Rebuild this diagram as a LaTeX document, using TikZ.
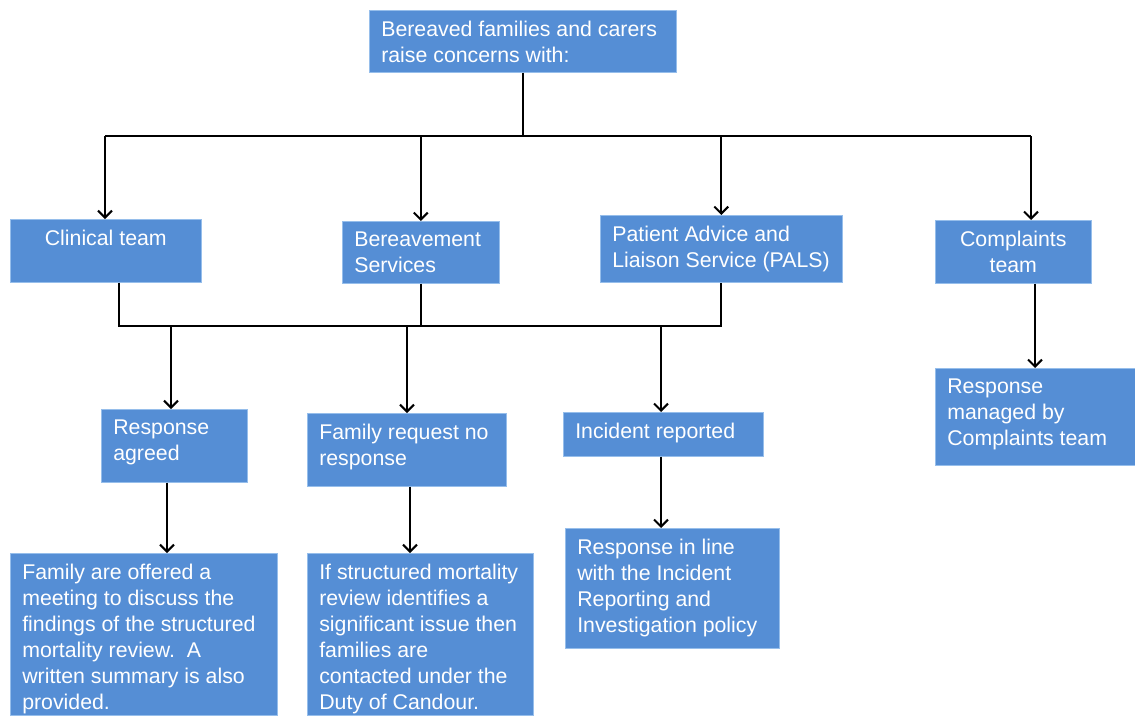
\documentclass[tikz,border=0pt]{standalone}
\usepackage{fontspec}
\setmainfont{Liberation Sans}
\usetikzlibrary{arrows.meta}

\definecolor{boxblue}{RGB}{85,142,213}
\definecolor{boxedge}{RGB}{150,190,235}

\newcommand{\boxfont}{\fontsize{21.3pt}{26pt}\selectfont}
\newcommand{\lefttext}{\raggedright\leftskip=12pt\relax}
\newcommand{\midtext}{\centering}
% #1 width, #2 height, #3 alignment, #4 text
\newcommand{\boxtext}[4]{%
  \parbox[c][#2][t]{#1}{\boxfont\vspace*{11pt}#3#4\par}}

\tikzset{
  box/.style={fill=boxblue, draw=boxedge, line width=0.6pt, inner sep=0pt,
              anchor=north west, text=white},
  link/.style={draw=black, line width=2pt},
  arr/.style={link, -{Straight Barb[length=7pt,width=14pt,line width=2pt]}},
}

\begin{document}
\begin{tikzpicture}[x=1pt, y=-1pt]
\useasboundingbox (0,0) rectangle (1135,715);

% boxes
\node[box] (top)  at (369,10)  {\boxtext{307pt}{62pt}{\lefttext}{Bereaved families and carers\\raise concerns with:}};
\node[box] (clin) at (10,219)  {\boxtext{191pt}{63pt}{\midtext}{Clinical team}};
\node[box] (bere) at (342,221) {\boxtext{157pt}{62pt}{\lefttext}{Bereavement\\Services}};
\node[box] (pals) at (600,215) {\boxtext{242pt}{67pt}{\lefttext}{Patient Advice and\\Liaison Service (PALS)}};
\node[box] (comp) at (935,220) {\boxtext{156pt}{63pt}{\midtext}{Complaints\\team}};

\node[box] (ragr) at (101,409) {\boxtext{146pt}{73pt}{\lefttext}{Response\\agreed}};
\node[box] (freq) at (307,413) {\boxtext{199pt}{73pt}{\lefttext}{Family request no\\response}};
\node[box] (inc)  at (563,412) {\boxtext{200pt}{44pt}{\lefttext}{Incident reported}};
\node[box] (rman) at (935,368) {\boxtext{200pt}{97pt}{\lefttext}{Response\\managed by\\Complaints team}};

\node[box] (fam)  at (10,553)  {\boxtext{267pt}{162pt}{\lefttext}{Family are offered a\\meeting to discuss the\\findings of the structured\\mortality review.\ \ A\\written summary is also\\provided.}};
\node[box] (ifs)  at (307,553) {\boxtext{226pt}{162pt}{\lefttext}{If structured mortality\\review identifies a\\significant issue then\\families are\\contacted under the\\Duty of Candour.}};
\node[box] (rinl) at (565,528) {\boxtext{214pt}{120pt}{\lefttext}{Response in line\\with the Incident\\Reporting and\\Investigation policy}};

% upper distribution bus
\coordinate (busL) at (105,136);
\coordinate (busR) at (1031,136);
\draw[link] (top.south) -- (top.south |- busL);
\draw[link] (busL) -- (busR);
\draw[arr] (busL) -- (busL |- clin.north);
\draw[arr] (bere.north |- busL) -- (bere.north);
\draw[arr] (pals.north |- busL) -- (pals.north);
\draw[arr] (busR) -- (busR |- comp.north);

% lower collection bus
\coordinate (clinout) at (119,0);
\coordinate (lowbus)  at (0,326);
\draw[link] (clin.south -| clinout) -- (lowbus -| clinout) -- (lowbus -| pals.south) -- (pals.south);
\draw[link] (bere.south) -- (lowbus -| bere.south);
\coordinate (xa) at (171,0);
\coordinate (xb) at (407,0);
\coordinate (xc) at (661,0);
\draw[arr] (lowbus -| xa) -- (ragr.north -| xa);
\draw[arr] (lowbus -| xb) -- (freq.north -| xb);
\draw[arr] (lowbus -| xc) -- (inc.north -| xc);

% outcome arrows
\coordinate (xd) at (167,0);
\coordinate (xe) at (410,0);
\coordinate (xf) at (1035,0);
\draw[arr] (ragr.south -| xd) -- (fam.north -| xd);
\draw[arr] (freq.south -| xe) -- (ifs.north -| xe);
\draw[arr] (inc.south -| xc) -- (rinl.north -| xc);
\draw[arr] (comp.south -| xf) -- (rman.north -| xf);
\end{tikzpicture}
\end{document}
